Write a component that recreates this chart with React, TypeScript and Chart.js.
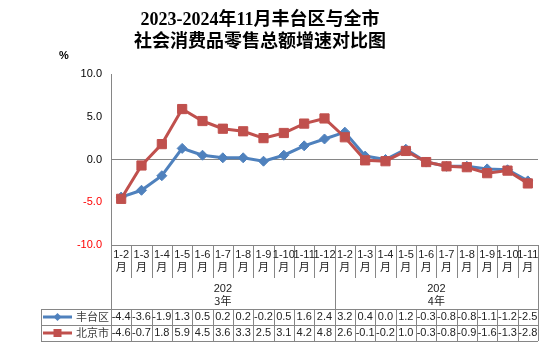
import React, { useEffect, useRef } from 'react';
import { Chart, registerables } from 'chart.js';

Chart.register(...registerables);

const titleLines = ['2023-2024年11月丰台区与全市', '社会消费品零售总额增速对比图'];
const unitLabel = '%';
const categories = ['1-2', '1-3', '1-4', '1-5', '1-6', '1-7', '1-8', '1-9', '1-10', '1-11', '1-12',
  '1-2', '1-3', '1-4', '1-5', '1-6', '1-7', '1-8', '1-9', '1-10', '1-11'];
const monthSuffix = '月';
const yearLines = [['202', '3年'], ['202', '4年']];
const yearSpans = [11, 10];
const seriesNames = ['丰台区', '北京市'];
const fengtai = [-4.4, -3.6, -1.9, 1.3, 0.5, 0.2, 0.2, -0.2, 0.5, 1.6, 2.4, 3.2, 0.4, 0.0, 1.2, -0.3, -0.8, -0.8, -1.1, -1.2, -2.5];
const beijing = [-4.6, -0.7, 1.8, 5.9, 4.5, 3.6, 3.3, 2.5, 3.1, 4.2, 4.8, 2.6, -0.1, -0.2, 1.0, -0.3, -0.8, -0.9, -1.6, -1.3, -2.8];
const yMin = -10;
const yMax = 10;
const yStep = 5;

const BLUE = '#4F81BD';
const RED = '#C0504D';
const GRID = '#868686';
const NUM_FONT = '11px "Liberation Sans", "Noto Sans CJK SC", sans-serif';
const CJK_FONT = '11px "Noto Sans CJK SC", sans-serif';

const tablePlugin = {
  id: 'tablePlugin',
  afterDraw(chart: any) {
    const ctx = chart.ctx as CanvasRenderingContext2D;
    const area = chart.chartArea;
    const left = area.left;
    const right = area.right;
    const n = categories.length;
    const w = (right - left) / n;
    const top = area.bottom;
    const catBottom = top + 33;
    const groupBottom = top + 64;
    const row1Bottom = groupBottom + 16;
    const row2Bottom = row1Bottom + 16;
    const legendLeft = 41;
    const px = (v: number) => Math.round(v) + 0.5;

    ctx.save();
    // Title
    ctx.fillStyle = '#000';
    ctx.textAlign = 'center';
    ctx.textBaseline = 'middle';
    ctx.font = 'bold 18px "Liberation Serif", "Noto Sans CJK SC", serif';
    ctx.fillText(titleLines[0], 260, 20);
    ctx.fillText(titleLines[1], 260, 42);
    ctx.font = 'bold 11px "Liberation Sans", sans-serif';
    ctx.fillText(unitLabel, 64, 56);

    // Grid lines
    ctx.strokeStyle = GRID;
    ctx.lineWidth = 1;
    ctx.beginPath();
    ctx.moveTo(left, px(top));
    ctx.lineTo(right, px(top));
    ctx.moveTo(px(left), top);
    ctx.lineTo(px(left), row2Bottom);
    ctx.moveTo(px(right), top);
    ctx.lineTo(px(right), row2Bottom);
    for (let i = 1; i < n; i++) {
      const x = px(left + i * w);
      ctx.moveTo(x, top);
      ctx.lineTo(x, catBottom);
      ctx.moveTo(x, groupBottom);
      ctx.lineTo(x, row2Bottom);
    }
    let acc = 0;
    for (let g = 0; g < yearSpans.length - 1; g++) {
      acc += yearSpans[g];
      const x = px(left + acc * w);
      ctx.moveTo(x, catBottom);
      ctx.lineTo(x, groupBottom);
    }
    [groupBottom, row1Bottom, row2Bottom].forEach((y) => {
      ctx.moveTo(legendLeft, px(y));
      ctx.lineTo(right, px(y));
    });
    ctx.moveTo(px(legendLeft), groupBottom);
    ctx.lineTo(px(legendLeft), row2Bottom);
    ctx.stroke();

    // category labels
    ctx.fillStyle = '#222';
    ctx.textAlign = 'center';
    for (let i = 0; i < n; i++) {
      const cx = left + (i + 0.5) * w;
      ctx.font = NUM_FONT;
      ctx.fillText(categories[i], cx, top + 10);
      ctx.font = CJK_FONT;
      ctx.fillText(monthSuffix, cx, top + 22);
    }
    // year labels
    acc = 0;
    for (let g = 0; g < yearSpans.length; g++) {
      const cx = left + (acc + yearSpans[g] / 2) * w;
      ctx.font = NUM_FONT;
      ctx.fillText(yearLines[g][0], cx, catBottom + 11);
      ctx.font = CJK_FONT;
      ctx.fillText(yearLines[g][1], cx, catBottom + 23);
      acc += yearSpans[g];
    }
    // values
    const rows = [fengtai, beijing];
    ctx.font = NUM_FONT;
    rows.forEach((vals, r) => {
      const cy = groupBottom + 8 + r * 16;
      vals.forEach((v, i) => {
        ctx.fillText(v.toFixed(1), left + (i + 0.5) * w, cy);
      });
    });
    // legend keys
    const colors = [BLUE, RED];
    rows.forEach((_, r) => {
      const cy = groupBottom + 8 + r * 16;
      ctx.strokeStyle = colors[r];
      ctx.fillStyle = colors[r];
      ctx.lineWidth = 3;
      ctx.beginPath();
      ctx.moveTo(43, cy);
      ctx.lineTo(72, cy);
      ctx.stroke();
      const mx = 57.5;
      ctx.beginPath();
      if (r === 0) {
        ctx.moveTo(mx - 4, cy);
        ctx.lineTo(mx, cy - 4);
        ctx.lineTo(mx + 4, cy);
        ctx.lineTo(mx, cy + 4);
        ctx.closePath();
      } else {
        ctx.rect(mx - 4, cy - 4, 8, 8);
      }
      ctx.fill();
      ctx.fillStyle = '#404040';
      ctx.textAlign = 'left';
      ctx.font = CJK_FONT;
      ctx.fillText(seriesNames[r], 76, cy);
      ctx.textAlign = 'center';
    });
    ctx.restore();
  },
};

export default function App() {
  const ref = useRef<HTMLCanvasElement | null>(null);
  useEffect(() => {
    document.body.style.margin = '0';
    const canvas = ref.current!;
    const chart = new Chart(canvas, {
      type: 'line',
      data: {
        labels: categories,
        datasets: [
          {
            label: seriesNames[0],
            data: fengtai,
            borderColor: BLUE,
            backgroundColor: BLUE,
            borderWidth: 3,
            pointStyle: 'rectRot',
            pointRadius: 5,
            pointBorderWidth: 1,
            order: 1,
          },
          {
            label: seriesNames[1],
            data: beijing,
            borderColor: RED,
            backgroundColor: RED,
            borderWidth: 3,
            pointStyle: 'rect',
            pointRadius: 6.5,
            pointBorderWidth: 1,
            order: 0,
          },
        ],
      },
      options: {
        responsive: false,
        animation: false,
        devicePixelRatio: 1,
        layout: { padding: { left: 0, right: 16, top: 74, bottom: 111 } },
        plugins: { legend: { display: false }, tooltip: { enabled: false }, title: { display: false } },
        scales: {
          x: { display: false, offset: true },
          y: {
            min: yMin,
            max: yMax,
            afterFit: (scale: any) => { scale.width = 111; },
            border: { display: true, color: GRID, width: 1 },
            grid: {
              drawTicks: false,
              color: (c: any) => (c.tick && c.tick.value === 0 ? GRID : 'rgba(0,0,0,0)'),
            },
            ticks: {
              stepSize: yStep,
              padding: 9,
              font: { family: '"Liberation Sans", sans-serif', size: 11 },
              color: (c: any) => (c.tick && c.tick.value < 0 ? '#FF0000' : '#000'),
              callback: (v: any) => Number(v).toFixed(1),
            },
          },
        },
      },
      plugins: [tablePlugin],
    });
    return () => chart.destroy();
  }, []);
  return <canvas ref={ref} width={554} height={356} style={{ display: 'block' }} />;
}
